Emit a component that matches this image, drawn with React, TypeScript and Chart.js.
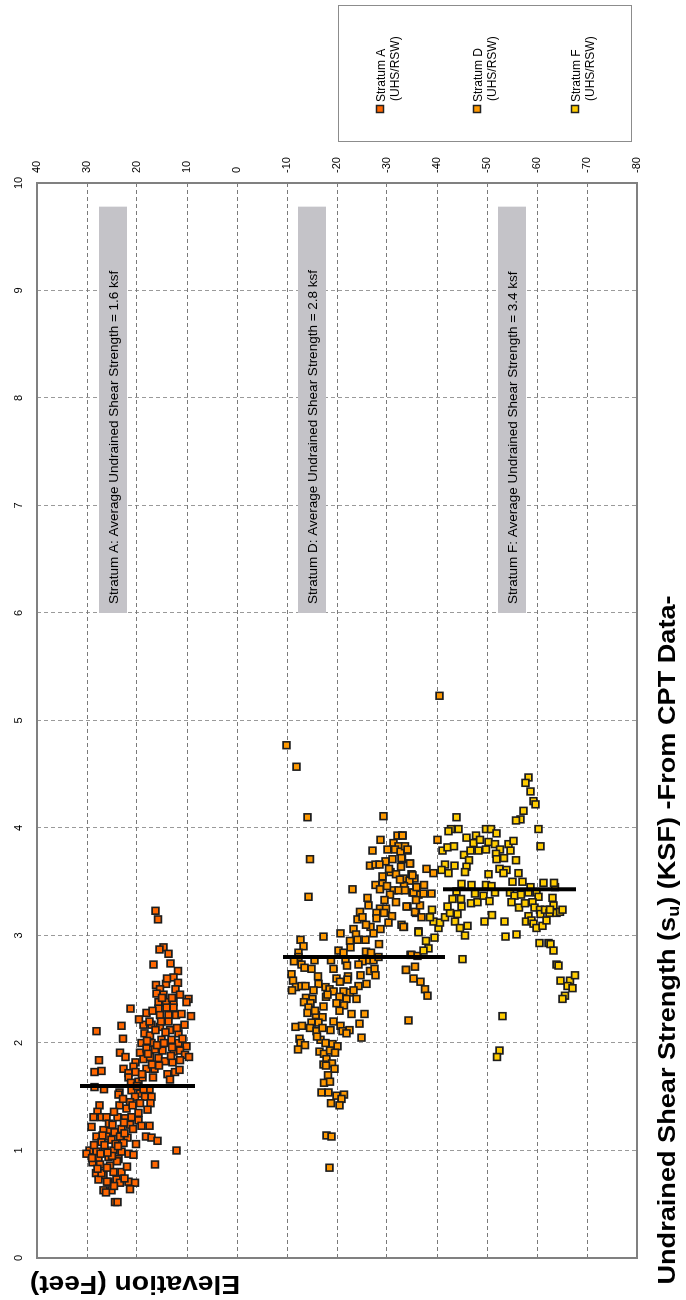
import React, { useEffect, useRef } from "react";
import { Chart, registerables } from "chart.js";

Chart.register(...registerables);

// ---------- data (elevation ft, undrained shear strength ksf) ----------
const stratumNames = ["Stratum A", "Stratum D", "Stratum F"];
const stratumSub = "(UHS/RSW)";
const stratumColors = ["#ff6600", "#ff9900", "#ffcc00"];

const stratumA: [number, number][] = [
  [16.3, 3.23], [15.8, 3.15], [14.7, 2.89], [15.5, 2.87], [13.7, 2.83], [16.7, 2.73], [13.3, 2.74],
  [11.8, 2.67], [12.7, 2.61], [11.8, 2.56], [16.2, 2.54], [14.2, 2.55], [12.3, 2.5], [15.4, 2.5],
  [11.4, 2.45], [14.7, 2.45], [16.1, 2.46], [9.7, 2.41],
  [21.3, 2.32], [15.7, 2.38], [14.2, 2.38], [12.7, 2.38], [10.1, 2.38], [15.7, 2.32], [14.1, 2.33],
  [12.7, 2.33], [18.1, 2.28], [15.4, 2.26], [13.7, 2.26], [12.2, 2.26], [11.1, 2.27], [9.2, 2.25],
  [28.1, 2.11], [23.1, 2.16], [18.7, 2.17], [17.1, 2.17], [15.4, 2.15], [13.7, 2.2], [13.4, 2.12],
  [11.7, 2.09], [10.5, 2.17], [22.8, 2.04], [18.5, 2.09], [17.4, 2.07], [15.1, 2.03], [19.1, 2.0],
  [17.1, 2.0], [13.1, 2.03], [11.7, 2.0], [10.1, 1.97], [23.4, 1.91], [22.3, 1.87], [19.4, 1.91],
  [18.1, 1.95], [16.4, 1.94], [14.9, 1.93], [12.7, 1.92], [11.4, 1.93], [10.4, 1.89], [9.6, 1.87],
  [27.6, 1.84], [20.3, 1.82], [18.7, 1.85], [17.4, 1.87], [15.7, 1.86], [14.4, 1.83], [12.9, 1.82],
  [11.4, 1.84], [28.5, 1.73], [27.1, 1.74], [22.7, 1.76], [20.7, 1.78], [18.1, 1.76], [16.5, 1.76],
  [21.7, 1.72], [20.3, 1.73], [13.9, 1.71], [12.4, 1.73], [11.5, 1.75], [21.7, 1.68], [19.7, 1.64],
  [21.2, 1.63], [13.4, 1.66],
  [28.5, 1.59], [26.6, 1.57], [23.5, 1.54], [23.7, 1.52], [21.1, 1.56], [19.4, 1.53], [17.5, 1.57],
  [20.4, 1.5], [18.4, 1.5], [17.1, 1.5], [21.4, 1.45], [19.4, 1.44], [17.3, 1.44], [27.5, 1.42],
  [23.5, 1.42], [22.1, 1.39], [17.9, 1.38], [27.9, 1.36], [19.7, 1.35], [28.7, 1.31], [27.1, 1.31],
  [26.1, 1.31], [23.9, 1.31], [22.4, 1.3], [21.1, 1.31], [19.7, 1.28], [29.1, 1.22], [26.7, 1.19],
  [25.4, 1.18], [23.1, 1.2], [21.4, 1.24], [19.1, 1.23], [17.5, 1.23], [28.1, 1.13], [26.1, 1.13],
  [24.5, 1.17], [23.4, 1.13], [21.9, 1.12], [18.2, 1.13], [17.1, 1.12], [15.9, 1.09], [27.1, 1.08],
  [25.1, 1.1], [22.7, 1.07], [20.2, 1.06], [29.5, 1.0], [28.1, 0.99], [26.4, 1.0], [24.7, 1.0],
  [23.1, 0.99], [21.7, 0.97], [20.7, 0.96], [30.1, 0.97], [12.1, 1.0], [27.7, 0.93], [25.7, 0.94],
  [23.7, 0.92], [28.9, 0.89], [16.4, 0.87], [27.4, 0.87], [25.4, 0.86], [28.2, 0.79], [26.7, 0.77],
  [24.7, 0.8], [23.1, 0.8], [27.7, 0.73], [25.7, 0.71], [24.1, 0.73], [21.7, 0.71], [20.4, 0.7],
  [26.7, 0.63], [25.1, 0.63], [23.4, 0.7], [21.4, 0.64], [26.2, 0.61], [24.4, 0.52], [23.9, 0.52],
  [27.1, 0.79], [26.0, 0.84], [24.0, 0.9], [22.0, 0.85], [25.0, 0.95], [26.5, 1.05], [24.3, 1.06],
  [22.5, 1.16], [20.8, 1.2], [25.6, 1.25], [24.6, 1.36], [22.8, 1.48], [20.0, 1.6], [18.9, 1.68],
  [17.0, 1.8], [16.0, 1.98], [14.3, 2.1], [13.0, 1.96], [15.2, 2.2], [16.9, 2.3], [19.6, 2.22],
  [18.0, 2.02], [16.3, 2.12], [14.6, 2.0], [12.0, 2.14], [10.9, 2.04], [17.8, 1.9], [15.6, 1.79],
  [13.2, 1.88], [19.0, 1.71], [16.8, 1.68], [20.9, 1.42], [18.7, 1.57], [22.6, 1.26], [24.9, 1.24],
  [26.9, 1.14], [28.6, 1.05], [25.9, 0.98], [23.8, 1.04], [27.3, 0.97], [29.0, 0.93], [24.6, 0.67],
  [22.5, 0.74], [26.0, 0.71], [27.9, 0.83], [15.0, 2.42], [13.0, 2.42], [14.0, 2.6], [17.5, 2.2],
];

const stratumD: [number, number][] = [
  [-9.9, 4.77], [-11.9, 4.57], [-14.1, 4.1], [-29.3, 4.11], [-14.6, 3.71], [-28.7, 3.89], [-27.1, 3.79],
  [-32.1, 3.93], [-33.1, 3.93], [-31.3, 3.86], [-32.3, 3.83], [-30.1, 3.8], [-31.6, 3.8], [-32.7, 3.78],
  [-34.1, 3.79], [-33.6, 3.83], [-29.7, 3.69], [-31.1, 3.71], [-33.0, 3.71], [-34.6, 3.67], [-26.6, 3.65],
  [-27.7, 3.66], [-28.5, 3.66], [-30.7, 3.59], [-29.1, 3.55], [-31.8, 3.57], [-33.3, 3.53], [-34.9, 3.57],
  [-35.5, 3.53], [-27.7, 3.47], [-29.1, 3.48], [-34.5, 3.51], [-35.9, 3.45], [-33.4, 3.46], [-28.6, 3.43],
  [-31.3, 3.42], [-32.3, 3.42], [-35.1, 3.4], [-23.1, 3.43], [-26.1, 3.35], [-14.3, 3.36], [-30.6, 3.38],
  [-36.3, 3.38],
  [-26.3, 3.28], [-28.6, 3.25], [-29.8, 3.25], [-31.8, 3.31], [-34.1, 3.27], [-24.6, 3.22], [-27.9, 3.21],
  [-29.4, 3.21], [-35.8, 3.21], [-24.1, 3.15], [-25.1, 3.17], [-27.9, 3.16], [-32.9, 3.1], [-33.4, 3.08],
  [-26.7, 3.08], [-28.7, 3.06], [-23.3, 3.06], [-23.8, 3.01], [-27.3, 3.02], [-20.7, 3.02], [-17.3, 2.99],
  [-12.7, 2.96], [-13.3, 2.9], [-22.6, 2.95], [-24.1, 2.96], [-25.7, 2.96], [-28.4, 2.92], [-22.7, 2.89],
  [-20.3, 2.86], [-21.3, 2.84], [-12.3, 2.84], [-25.8, 2.85], [-26.8, 2.84], [-12.3, 2.8], [-11.4, 2.76],
  [-15.5, 2.77], [-18.8, 2.77], [-21.7, 2.77], [-26.1, 2.77], [-27.3, 2.77], [-28.3, 2.8], [-25.1, 2.76],
  [-24.3, 2.73], [-12.9, 2.73], [-13.5, 2.7], [-14.9, 2.69], [-19.3, 2.69], [-26.6, 2.67], [-27.5, 2.69],
  [-10.9, 2.64], [-24.7, 2.63], [-27.7, 2.63], [-11.2, 2.58], [-19.9, 2.6], [-22.2, 2.62], [-22.1, 2.59],
  [-20.6, 2.57], [-16.3, 2.55], [-25.9, 2.55], [-24.3, 2.53], [-11.8, 2.52], [-12.9, 2.53], [-13.7, 2.53],
  [-11.0, 2.49], [-15.3, 2.49], [-17.7, 2.52], [-18.5, 2.5], [-19.3, 2.48], [-21.3, 2.48], [-22.6, 2.47],
  [-23.3, 2.49], [-13.8, 2.42], [-15.1, 2.41], [-17.8, 2.43], [-20.5, 2.43], [-21.9, 2.41], [-23.9, 2.41],
  [-13.4, 2.38], [-14.7, 2.37], [-19.9, 2.37], [-21.4, 2.35], [-14.3, 2.33], [-17.3, 2.34], [-20.5, 2.3],
  [-14.1, 2.28], [-15.8, 2.26], [-17.1, 2.24], [-22.9, 2.27], [-25.5, 2.27], [-14.9, 2.19], [-16.3, 2.19],
  [-24.5, 2.18], [-11.7, 2.15], [-13.0, 2.16], [-14.6, 2.14], [-15.9, 2.11], [-17.1, 2.14], [-18.7, 2.12],
  [-20.7, 2.16], [-21.1, 2.11], [-22.5, 2.12], [-21.9, 2.09], [-16.7, 2.03], [-24.9, 2.05], [-12.5, 2.04],
  [-12.7, 2.0], [-13.6, 1.98], [-12.2, 1.94], [-17.7, 2.0], [-19.1, 1.99], [-20.1, 1.97], [-16.5, 1.92],
  [-17.4, 1.9], [-18.6, 1.93], [-19.6, 1.91], [-17.9, 1.85], [-17.3, 1.8], [-19.0, 1.81], [-17.8, 1.79],
  [-19.5, 1.76], [-18.2, 1.7], [-17.4, 1.63], [-18.6, 1.64], [-16.9, 1.54], [-18.3, 1.54], [-19.9, 1.51],
  [-21.4, 1.52], [-20.9, 1.48], [-18.8, 1.44], [-20.5, 1.42], [-17.9, 1.14], [-18.9, 1.13], [-18.5, 0.84],
  [-34.3, 2.21], [-33.8, 2.68], [-35.6, 2.71], [-35.3, 2.6], [-34.7, 2.82],
  [-40.5, 5.23], [-33.1, 3.93], [-34.1, 3.8], [-32.9, 3.72], [-34.6, 3.67], [-37.9, 3.62], [-39.3, 3.58],
  [-40.1, 3.89], [-35.1, 3.56],
  [-33.9, 3.27], [-35.6, 3.22], [-36.6, 3.28], [-36.9, 3.17], [-33.3, 3.08], [-36.3, 3.04], [-34.9, 2.82],
  [-36.1, 2.81], [-33.8, 2.68], [-36.7, 2.57], [-37.6, 2.5], [-38.1, 2.44], [-37.4, 3.47], [-35.3, 3.4],
  [-37.3, 3.39], [-35.9, 3.45], [-33.6, 3.42], [-35.8, 3.33], [-38.9, 3.39],
  [-30.4, 3.62], [-32.8, 3.64], [-30.0, 3.46], [-32.6, 3.52], [-29.5, 3.33], [-31.0, 3.18], [-30.3, 3.12],
  [-25.8, 3.1], [-22.0, 2.72], [-16.2, 2.62], [-18.1, 2.45], [-15.6, 2.3], [-19.3, 2.2], [-16.0, 2.06],
];

const stratumF: [number, number][] = [
  [-58.3, 4.47], [-57.7, 4.42], [-58.7, 4.34], [-59.3, 4.25], [-59.7, 4.22], [-57.3, 4.16], [-56.7, 4.08],
  [-55.8, 4.07], [-60.3, 3.99], [-60.7, 3.83], [-43.9, 4.1], [-42.8, 3.99], [-44.3, 3.99], [-42.3, 3.97],
  [-49.8, 3.99], [-50.8, 3.99], [-51.9, 3.95], [-47.8, 3.93], [-45.9, 3.91], [-47.3, 3.86], [-48.6, 3.89],
  [-50.3, 3.87], [-51.6, 3.85], [-52.6, 3.8], [-54.3, 3.85], [-55.3, 3.88], [-54.7, 3.79], [-41.1, 3.79],
  [-42.1, 3.82], [-43.4, 3.83], [-45.4, 3.75], [-46.7, 3.79], [-48.3, 3.79], [-49.8, 3.8], [-51.8, 3.76],
  [-53.4, 3.72], [-55.8, 3.7], [-51.9, 3.71], [-46.4, 3.7], [-41.6, 3.66], [-43.5, 3.65], [-45.9, 3.64],
  [-52.5, 3.62], [-53.9, 3.61], [-56.3, 3.58], [-50.3, 3.57], [-45.6, 3.59], [-42.3, 3.58], [-53.3, 3.58],
  [-40.9, 3.61],
  [-36.3, 3.03], [-37.8, 2.95], [-38.3, 2.88], [-37.3, 2.86], [-39.5, 2.98], [-45.1, 2.78], [-40.3, 3.07],
  [-39.3, 3.13], [-38.6, 3.17], [-40.6, 3.12], [-39.0, 3.24], [-41.6, 3.17], [-42.6, 3.21], [-43.6, 3.13],
  [-44.6, 3.07], [-45.6, 3.0], [-46.1, 3.09], [-44.1, 3.2], [-43.1, 3.34], [-42.1, 3.27], [-44.9, 3.27],
  [-44.8, 3.34], [-43.9, 3.41], [-44.9, 3.48], [-46.9, 3.47], [-47.6, 3.39], [-46.8, 3.3], [-48.1, 3.31],
  [-49.3, 3.37], [-50.5, 3.32], [-51.6, 3.4], [-49.8, 3.47], [-50.9, 3.46], [-49.5, 3.13], [-51.0, 3.19],
  [-53.5, 3.13], [-53.7, 2.99], [-55.9, 3.01], [-53.1, 2.25], [-52.5, 1.93], [-52.0, 1.87], [-55.1, 3.5],
  [-57.1, 3.5], [-54.6, 3.4], [-55.5, 3.37], [-56.8, 3.38], [-54.9, 3.31], [-56.4, 3.26], [-57.6, 3.3],
  [-58.3, 3.4], [-58.7, 3.45], [-59.9, 3.4], [-60.3, 3.36], [-59.1, 3.31], [-59.5, 3.26], [-60.6, 3.24],
  [-60.7, 3.2], [-58.3, 3.18], [-57.8, 3.13], [-58.9, 3.14], [-59.3, 3.11], [-59.9, 3.07], [-61.1, 3.09],
  [-61.9, 3.14], [-61.6, 3.24], [-62.5, 3.21], [-63.3, 3.28], [-63.9, 3.21], [-64.6, 3.22], [-65.1, 3.24],
  [-63.1, 3.35], [-61.3, 3.49], [-63.6, 3.45], [-63.4, 3.49], [-62.6, 3.24], [-60.5, 2.93], [-62.3, 2.93],
  [-62.7, 2.92], [-63.3, 2.86], [-63.9, 2.73], [-64.3, 2.72], [-64.7, 2.58], [-66.6, 2.58], [-67.6, 2.63],
  [-66.1, 2.53], [-67.1, 2.51], [-65.6, 2.44], [-65.1, 2.41],
];

// average strength lines: value (ksf) and elevation extent (ft)
const avgStrength = [1.6, 2.8, 3.43];
const avgElevFrom = [31.4, -9.2, -41.2];
const avgElevTo = [8.4, -41.6, -67.8];

// annotation labels
const labelTexts = [
  "Stratum A: Average Undrained Shear Strength = 1.6 ksf",
  "Stratum D: Average Undrained Shear Strength = 2.8 ksf",
  "Stratum F: Average Undrained Shear Strength = 3.4 ksf",
];
const labelElevTop = [27.6, -12.2, -52.2];
const labelElevBottom = [22.0, -17.8, -57.8];
const labelShearRange = [6.0, 9.78];

const shearMin = 0;
const shearMax = 10;
const elevMin = -80;
const elevMax = 40;

const titleMain1 = "Undrained Shear Strength (s";
const titleSub = "u";
const titleMain2 = ") (KSF) -From CPT Data-";
const elevTitle = "Elevation (Feet)";

const W = 1300;
const H = 686;
const FONT = '"Liberation Sans", Arial, Helvetica, sans-serif';

const overlayPlugin = {
  id: "overlay",
  beforeDatasetsDraw(chart: any) {
    const { ctx } = chart;
    const xs = chart.scales.x;
    const ys = chart.scales.y;
    ctx.save();
    for (let i = 0; i < labelTexts.length; i++) {
      const x1 = xs.getPixelForValue(labelShearRange[0]);
      const x2 = xs.getPixelForValue(labelShearRange[1]);
      const y1 = ys.getPixelForValue(labelElevTop[i]);
      const y2 = ys.getPixelForValue(labelElevBottom[i]);
      ctx.fillStyle = "#c4c3c8";
      ctx.fillRect(x1, y1, x2 - x1, y2 - y1);
      ctx.fillStyle = "#000";
      ctx.font = `13.5px ${FONT}`;
      ctx.textAlign = "left";
      ctx.textBaseline = "middle";
      ctx.fillText(labelTexts[i], x1 + 9, (y1 + y2) / 2 + 1);
    }
    ctx.restore();
  },
  afterDraw(chart: any) {
    const { ctx, chartArea } = chart;
    const { left, right, top, bottom } = chartArea;
    ctx.save();
    // plot frame
    ctx.strokeStyle = "#808080";
    ctx.lineWidth = 2;
    ctx.strokeRect(left, top, right - left, bottom - top);

    // bottom title with subscript (slightly stretched, condensed-looking bold)
    const stretch = 1.13;
    const mainFont = `bold 24px ${FONT}`;
    const subFont = `bold 16px ${FONT}`;
    ctx.fillStyle = "#000";
    ctx.textBaseline = "middle";
    ctx.textAlign = "left";
    ctx.font = mainFont;
    const w1 = ctx.measureText(titleMain1).width;
    const w3 = ctx.measureText(titleMain2).width;
    ctx.font = subFont;
    const w2 = ctx.measureText(titleSub).width;
    const total = (w1 + w2 + w3) * stretch;
    const cx = 360;
    const cy = 668;
    ctx.save();
    ctx.translate(cx - total / 2, cy);
    ctx.scale(stretch, 1);
    let sx = 0;
    ctx.font = mainFont;
    ctx.fillText(titleMain1, sx, 0);
    sx += w1;
    ctx.font = subFont;
    ctx.fillText(titleSub, sx, 7);
    sx += w2;
    ctx.font = mainFont;
    ctx.fillText(titleMain2, sx, 0);
    ctx.restore();

    // elevation title (rotated)
    ctx.save();
    ctx.translate(17, 135);
    ctx.rotate(-Math.PI / 2);
    ctx.scale(stretch, 1);
    ctx.textAlign = "center";
    ctx.font = `bold 25px ${FONT}`;
    ctx.fillText(elevTitle, 0, 0);
    ctx.restore();

    // legend
    ctx.fillStyle = "#fff";
    ctx.fillRect(1158, 338, 137, 294);
    ctx.strokeStyle = "#8c8c8c";
    ctx.lineWidth = 1;
    ctx.strokeRect(1158.5, 338.5, 136, 293);
    const itemY = [380, 477, 575];
    for (let i = 0; i < stratumNames.length; i++) {
      const my = itemY[i];
      ctx.fillStyle = stratumColors[i];
      ctx.fillRect(1187.5, my - 3.5, 7, 7);
      ctx.strokeStyle = "#222";
      ctx.lineWidth = 1.5;
      ctx.strokeRect(1187.5, my - 3.5, 7, 7);
      ctx.fillStyle = "#000";
      ctx.font = `12px ${FONT}`;
      ctx.textAlign = "left";
      ctx.textBaseline = "middle";
      ctx.fillText(stratumNames[i], 1198, my + 2);
      ctx.fillText(stratumSub, 1199, my + 16);
    }
    ctx.restore();
  },
};

function toXY(pts: [number, number][]) {
  return pts.map(([e, s]) => ({ x: s, y: e }));
}

export default function App() {
  const ref = useRef<HTMLCanvasElement | null>(null);

  useEffect(() => {
    if (!ref.current) return;
    const lineSets = avgStrength.map((v, i) => ({
      type: "line" as const,
      label: "avg" + i,
      data: [
        { x: v, y: avgElevFrom[i] },
        { x: v, y: avgElevTo[i] },
      ],
      borderColor: "#000",
      borderWidth: 4,
      pointRadius: 0,
      showLine: true,
      fill: false,
    }));
    const pointSets = [stratumF, stratumD, stratumA].map((pts, k) => {
      const idx = 2 - k;
      return {
        type: "scatter" as const,
        label: stratumNames[idx],
        data: toXY(pts),
        pointStyle: "rect",
        pointRadius: 4.8,
        pointBorderWidth: 1.6,
        backgroundColor: stratumColors[idx],
        borderColor: "#1e1e1e",
        showLine: false,
      };
    });

    const chart = new Chart(ref.current, {
      type: "scatter",
      data: { datasets: [...lineSets, ...pointSets] as any },
      options: {
        animation: false,
        responsive: false,
        events: [],
        layout: { padding: { left: 42, right: 0, top: 0, bottom: 49 } },
        plugins: { legend: { display: false }, tooltip: { enabled: false }, title: { display: false } },
        scales: {
          x: {
            type: "linear",
            position: "top",
            min: shearMin,
            max: shearMax,
            afterFit: (s: any) => {
              s.height = 37;
            },
            ticks: {
              stepSize: 1,
              color: "#000",
              padding: 11,
              font: { size: 11, family: FONT },
            },
            grid: { color: "#9a9a9a", lineWidth: 1, drawTicks: false },
            border: { display: false, dash: [4, 3] },
          },
          y: {
            type: "linear",
            position: "right",
            min: elevMin,
            max: elevMax,
            afterFit: (s: any) => {
              s.width = 183;
            },
            ticks: {
              stepSize: 10,
              color: "#000",
              padding: 10,
              font: { size: 11, family: FONT },
            },
            grid: { color: "#7a7a7a", lineWidth: 1, drawTicks: false },
            border: { display: false, dash: [4, 3] },
          },
        },
      } as any,
      plugins: [overlayPlugin],
    });
    return () => chart.destroy();
  }, []);

  return (
    <div
      style={{
        position: "absolute",
        left: 0,
        top: 0,
        width: W,
        height: H,
        transformOrigin: "0 0",
        transform: `translate(0px, ${W}px) rotate(-90deg)`,
        background: "#fff",
      }}
    >
      <canvas ref={ref} width={W} height={H} style={{ display: "block", width: W, height: H }} />
    </div>
  );
}
